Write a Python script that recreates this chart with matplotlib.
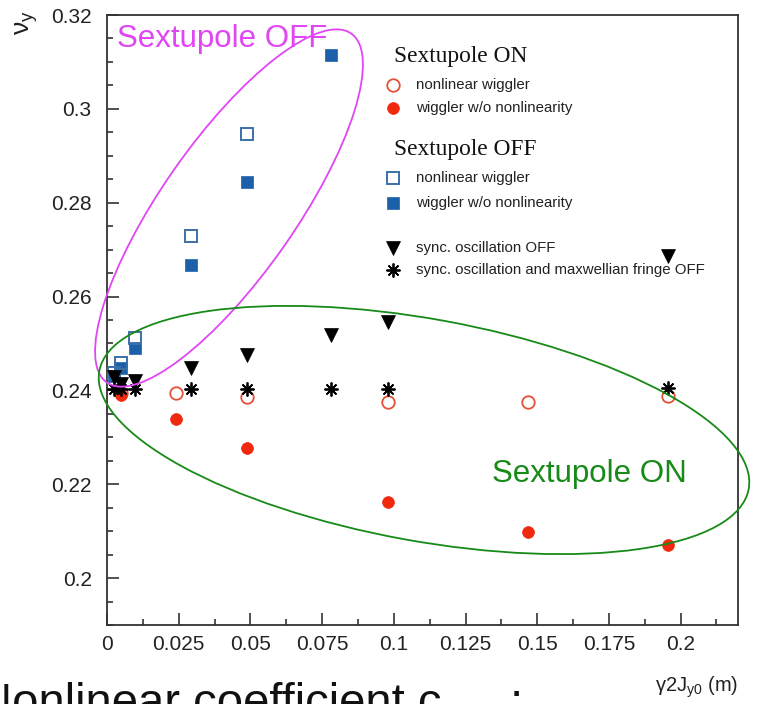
import matplotlib
matplotlib.use("Agg")
import matplotlib.pyplot as plt
from matplotlib.patches import Ellipse
from matplotlib.transforms import IdentityTransform
from matplotlib.ticker import MultipleLocator, FuncFormatter

plt.rcParams['font.family'] = ['Liberation Sans', 'DejaVu Sans']
plt.rcParams['mathtext.fontset'] = 'custom'
plt.rcParams['mathtext.rm'] = 'Liberation Sans'
plt.rcParams['mathtext.it'] = 'Liberation Sans:italic'

# ---------------- data ----------------
# Sextupole ON
x_on_open = [0.0049, 0.0242, 0.0488, 0.0979, 0.1468, 0.1956]
y_on_open = [0.2395, 0.2394, 0.2385, 0.2376, 0.2376, 0.2388]
x_on_fill = [0.0049, 0.0242, 0.0488, 0.0979, 0.1468, 0.1956]
y_on_fill = [0.2390, 0.2338, 0.2278, 0.2163, 0.2099, 0.2070]
# Sextupole OFF
x_off_open = [0.0024, 0.0049, 0.0098, 0.0293, 0.0488]
y_off_open = [0.2438, 0.2458, 0.2512, 0.2728, 0.2946]
x_off_fill = [0.0024, 0.0049, 0.0098, 0.0293, 0.0488, 0.0781]
y_off_fill = [0.2430, 0.2448, 0.2490, 0.2667, 0.2844, 0.3115]
# sync. oscillation OFF
x_sync = [0.0024, 0.0049, 0.0098, 0.0293, 0.0488, 0.0781, 0.0979, 0.1956]
y_sync = [0.2428, 0.2413, 0.2421, 0.2447, 0.2475, 0.2518, 0.2546, 0.2686]
# sync. oscillation and maxwellian fringe OFF
x_fringe = [0.0024, 0.0049, 0.0098, 0.0293, 0.0488, 0.0781, 0.0979, 0.1956]
y_fringe = [0.2402, 0.2402, 0.2402, 0.2403, 0.2403, 0.2403, 0.2403, 0.2405]

legend_headers = ["Sextupole ON", "Sextupole OFF"]
legend_labels = ["nonlinear wiggler", "wiggler w/o nonlinearity",
                 "nonlinear wiggler", "wiggler w/o nonlinearity",
                 "sync. oscillation OFF",
                 "sync. oscillation and maxwellian fringe OFF"]

xticks = [0, 0.025, 0.05, 0.075, 0.1, 0.125, 0.15, 0.175, 0.2]
yticks = [0.2, 0.22, 0.24, 0.26, 0.28, 0.3, 0.32]

RED_O = '#e5503a'
RED_F = '#f0280e'
BLUE_O = '#3c70a8'
BLUE_F = '#1c60aa'
MAG = '#e046f4'
GRN = '#188a18'

W, H = 760, 704
fig = plt.figure(figsize=(W/100, H/100), dpi=100)
L, R, T, B = 107, 738, 15, 625
ax = fig.add_axes([L/W, 1-B/H, (R-L)/W, (B-T)/H])
ax.set_xlim(0, 0.22)
ax.set_ylim(0.19, 0.32)

styles = [
    dict(marker='o', ms=9, mfc='none', mec=RED_O, mew=1.3),
    dict(marker='o', ms=8.5, mfc=RED_F, mec=RED_F, mew=0.5),
    dict(marker='s', ms=8, mfc='none', mec=BLUE_O, mew=1.4),
    dict(marker='s', ms=8, mfc=BLUE_F, mec=BLUE_F, mew=0.5),
    dict(marker='v', ms=9.5, mfc='black', mec='black', mew=0.5),
    dict(marker=(8, 2, 0), ms=10, mfc='black', mec='black', mew=1.3),
]
series = [(x_on_open, y_on_open), (x_on_fill, y_on_fill),
          (x_off_fill, y_off_fill), (x_off_open, y_off_open),
          (x_sync, y_sync), (x_fringe, y_fringe)]
order = [0, 1, 3, 2, 4, 5]
for (xs, ys), si in zip(series, order):
    ax.plot(xs, ys, ls='none', zorder=3, **styles[si])

# axes style
for s in ax.spines.values():
    s.set_linewidth(1.3)
    s.set_color('#333333')
ax.set_xticks(xticks)
ax.set_yticks(yticks)
ax.xaxis.set_minor_locator(MultipleLocator(0.0125))
ax.yaxis.set_minor_locator(MultipleLocator(0.005))
ax.xaxis.set_major_formatter(FuncFormatter(lambda v, p: f"{v:g}"))
ax.yaxis.set_major_formatter(FuncFormatter(lambda v, p: f"{v:g}"))
ax.tick_params(axis='both', which='major', direction='in', length=8.5, width=1.2,
               color='#333333', labelsize=15, labelcolor='#222222')
ax.tick_params(axis='both', which='minor', direction='in', length=4.3, width=1.2,
               color='#333333')
ax.tick_params(axis='y', which='major', pad=11)
ax.tick_params(axis='x', which='major', pad=7)
ax.tick_params(top=False, right=False, which='both')

# legend (manual, axes fraction)
def axf(px, py):
    return (px - L) / (R - L), (B - py) / (B - T)

hdr_pos = [(394, 62), (394, 155)]
for txt, (px, py) in zip(legend_headers, hdr_pos):
    x0, y0 = axf(px, py)
    ax.text(x0, y0, txt, transform=ax.transAxes, ha='left', va='baseline',
            fontsize=16.8, family=['Liberation Serif'], color='#111111')
row_y = [85, 108, 178, 203, 248, 270]
for lab, py, si in zip(legend_labels, row_y, range(6)):
    mx, my = axf(393, py)
    ax.plot([mx], [my], transform=ax.transAxes, ls='none', clip_on=False,
            zorder=4, **styles[si])
    tx, ty = axf(416, py)
    ax.text(tx, ty, lab, transform=ax.transAxes, ha='left', va='center',
            fontsize=10.8, color='#222222')

# ellipse annotations (pixel coordinates)
tr = IdentityTransform()
e1 = Ellipse((229, H - 208), 426, 134, angle=55.0, fill=False, ec=MAG, lw=1.3,
             transform=tr, zorder=5, clip_on=False)
e2 = Ellipse((424, H - 430), 660, 222, angle=-10.3, fill=False, ec=GRN, lw=1.3,
             transform=tr, zorder=5, clip_on=False)
fig.add_artist(e1)
fig.add_artist(e2)

fig.text(117/W, 1 - 47/H, "Sextupole OFF", color=MAG, fontsize=22.5,
         ha='left', va='baseline')
fig.text(492/W, 1 - 482/H, "Sextupole ON", color=GRN, fontsize=22.5,
         ha='left', va='baseline')

# axis labels
fig.text(27/W, 1 - 10/H, r"$\mathrm{\nu}_{\mathrm{y}}$", rotation=90, ha='center', va='top',
         fontsize=19, color='#222222')
fig.text(738/W, 1 - 692/H, r"$\mathrm{\gamma}$2J$_{\rm y0}$ (m)", ha='right', va='baseline',
         fontsize=14.5, color='#222222')

# slide text (cut off at bottom, as in the reference)
fig.text(-22/W, 1 - 716/H, "Nonlinear coefficient c", ha='left', va='baseline',
         fontsize=34, color='#111111')
fig.text(510/W, 1 - 716/H, ":", ha='left', va='baseline',
         fontsize=34, color='#111111')

fig.savefig("out.png", dpi=100)
